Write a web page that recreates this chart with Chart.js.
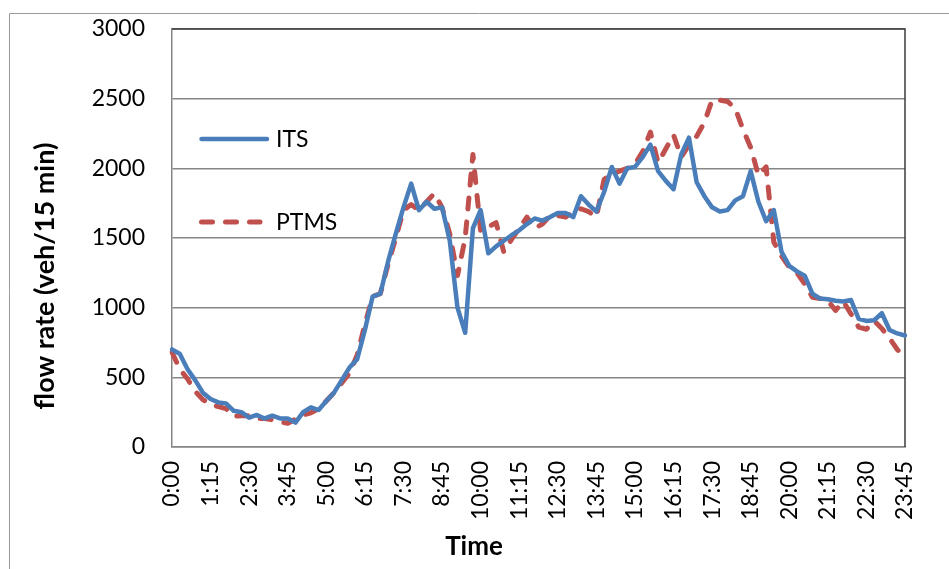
<!DOCTYPE html>
<html lang="en">
<head>
<meta charset="UTF-8">
<title>Flow rate - ITS vs PTMS</title>
<script src="https://cdn.jsdelivr.net/npm/chart.js"></script>
<style>
  html, body { margin: 0; padding: 0; background: #ffffff; }
  #caja { position: relative; width: 949px; height: 569px; }
</style>
</head>
<body>
<div id="caja"><canvas id="flujo"></canvas></div>
<script>
// categorias cada 15 minutos (0:00 ... 23:45)
const horas = [];
for (let m = 0; m < 24 * 60; m += 15) {
  horas.push(Math.floor(m / 60) + ':' + String(m % 60).padStart(2, '0'));
}

// etiquetas que se muestran en el eje X
const etiquetasX = ['0:00','1:15','2:30','3:45','5:00','6:15','7:30','8:45','10:00','11:15',
                    '12:30','13:45','15:00','16:15','17:30','18:45','20:00','21:15','22:30','23:45'];

// ITS (veh/15 min)
const its = [700, 670, 560, 480, 390, 345, 320, 313, 260, 250,
             210, 230, 205, 225, 205, 205, 175, 250, 285, 265,
             330, 390, 480, 570, 630, 840, 1080, 1100, 1330, 1530,
             1720, 1890, 1700, 1760, 1710, 1720, 1480, 1000, 820, 1570,
             1700, 1390, 1440, 1480, 1520, 1555, 1600, 1640, 1625, 1650,
             1680, 1680, 1650, 1800, 1740, 1690, 1830, 2010, 1890, 2000,
             2010, 2080, 2170, 1980, 1910, 1850, 2100, 2220, 1900, 1800,
             1720, 1690, 1700, 1770, 1800, 1980, 1760, 1620, 1700, 1400,
             1300, 1260, 1230, 1100, 1065, 1060, 1050, 1045, 1055, 920,
             905, 910, 960, 840, 815, 800];

// PTMS (veh/15 min)
const ptms = [680, 560, 490, 400, 340, 305, 290, 275, 220, 225,
              225, 205, 205, 195, 180, 170, 200, 230, 245, 275,
              330, 390, 460, 530, 660, 880, 1080, 1100, 1310, 1500,
              1700, 1740, 1700, 1760, 1820, 1720, 1530, 1230, 1500, 2100,
              1550, 1580, 1610, 1400, 1490, 1570, 1650, 1570, 1600, 1660,
              1660, 1650, 1690, 1710, 1690, 1650, 1920, 1960, 1980, 2000,
              2030, 2120, 2260, 2040, 2140, 2240, 2080, 2170, 2230, 2330,
              2490, 2490, 2480, 2430, 2280, 2150, 1950, 2010, 1470, 1370,
              1290, 1250, 1170, 1075, 1065, 1050, 980, 1045, 955, 860,
              845, 905, 850, 780, 700, 640];

const azul = '#4a7ebb';
const rojo = '#c0504d';
const gris = '#868686';

Chart.defaults.font.family = 'Lato, "Open Sans", sans-serif';
Chart.defaults.color = '#000000';

// marco, leyenda interna y titulos de ejes (como en Excel)
const adornos = {
  id: 'adornos',
  beforeDraw(chart) {
    const ctx = chart.ctx;
    ctx.save();
    ctx.strokeStyle = '#9a9a9a';
    ctx.lineWidth = 1;
    ctx.beginPath();
    ctx.moveTo(9.5, 569);
    ctx.lineTo(9.5, 13.5);
    ctx.lineTo(949, 13.5);
    ctx.stroke();
    ctx.restore();
  },
  beforeDatasetsDraw(chart) {
    const {ctx, chartArea: a} = chart;
    ctx.save();
    ctx.strokeStyle = '#3c3c3c';
    ctx.lineWidth = 1.5;
    ctx.beginPath();
    ctx.moveTo(a.left, a.top);
    ctx.lineTo(a.right, a.top);
    ctx.lineTo(a.right, a.bottom);
    ctx.stroke();
    ctx.restore();
  },
  afterDatasetsDraw(chart) {
    const ctx = chart.ctx;
    const filas = [139, 222];
    ctx.save();
    chart.data.datasets.forEach((ds, i) => {
      const y = filas[i];
      ctx.strokeStyle = ds.borderColor;
      ctx.lineWidth = ds.borderWidth;
      ctx.lineCap = 'round';
      ctx.setLineDash(ds.borderDash || []);
      ctx.beginPath();
      ctx.moveTo(201.5, y);
      ctx.lineTo(ds.borderDash ? 260 : 267, y);
      ctx.stroke();
      ctx.setLineDash([]);
      ctx.fillStyle = '#000';
      ctx.font = '23px Lato, "Open Sans", sans-serif';
      ctx.textBaseline = 'middle';
      ctx.textAlign = 'left';
      ctx.fillText(ds.label, 276, y + 1);
    });

    // titulos de ejes
    ctx.font = 'bold 27px Lato, "Open Sans", sans-serif';
    ctx.textAlign = 'center';
    ctx.textBaseline = 'middle';
    ctx.translate(45, 276);
    ctx.rotate(-Math.PI / 2);
    ctx.fillText('flow rate (veh/15 min)', 0, 0);
    ctx.setTransform(1, 0, 0, 1, 0, 0);
    ctx.font = 'bold 26px Lato, "Open Sans", sans-serif';
    ctx.fillText('Time', 474, 547);
    ctx.restore();
  }
};

new Chart(document.getElementById('flujo'), {
  type: 'line',
  data: {
    labels: horas,
    datasets: [
      { label: 'ITS', data: its, borderColor: azul, borderWidth: 4.5,
        borderJoinStyle: 'round', borderCapStyle: 'round' },
      { label: 'PTMS', data: ptms, borderColor: rojo, borderWidth: 5,
        borderDash: [11, 13], borderJoinStyle: 'round', borderCapStyle: 'round' }
    ]
  },
  options: {
    responsive: true,
    maintainAspectRatio: false,
    animation: false,
    layout: { padding: { top: 29, right: 44, bottom: 0, left: 0 } },
    elements: { point: { radius: 0 }, line: { tension: 0 } },
    plugins: { legend: { display: false }, tooltip: { enabled: false } },
    scales: {
      x: {
        grid: { display: false, drawTicks: false },
        border: { color: gris, width: 1.5 },
        ticks: {
          autoSkip: false, minRotation: 90, maxRotation: 90, padding: 14,
          font: { size: 23 },
          callback: (v, i) => etiquetasX.includes(horas[i]) ? horas[i] : ''
        },
        afterFit: s => { s.height = 122; }
      },
      y: {
        min: 0, max: 3000,
        ticks: { stepSize: 500, padding: 27, font: { size: 23 }, callback: v => String(v) },
        grid: { color: gris, lineWidth: 1.5, drawTicks: false },
        border: { color: gris, width: 1.5 },
        afterFit: s => { s.width = 172; s.paddingTop = 14; s.paddingBottom = 14; }
      }
    }
  },
  plugins: [adornos]
});
</script>
</body>
</html>
